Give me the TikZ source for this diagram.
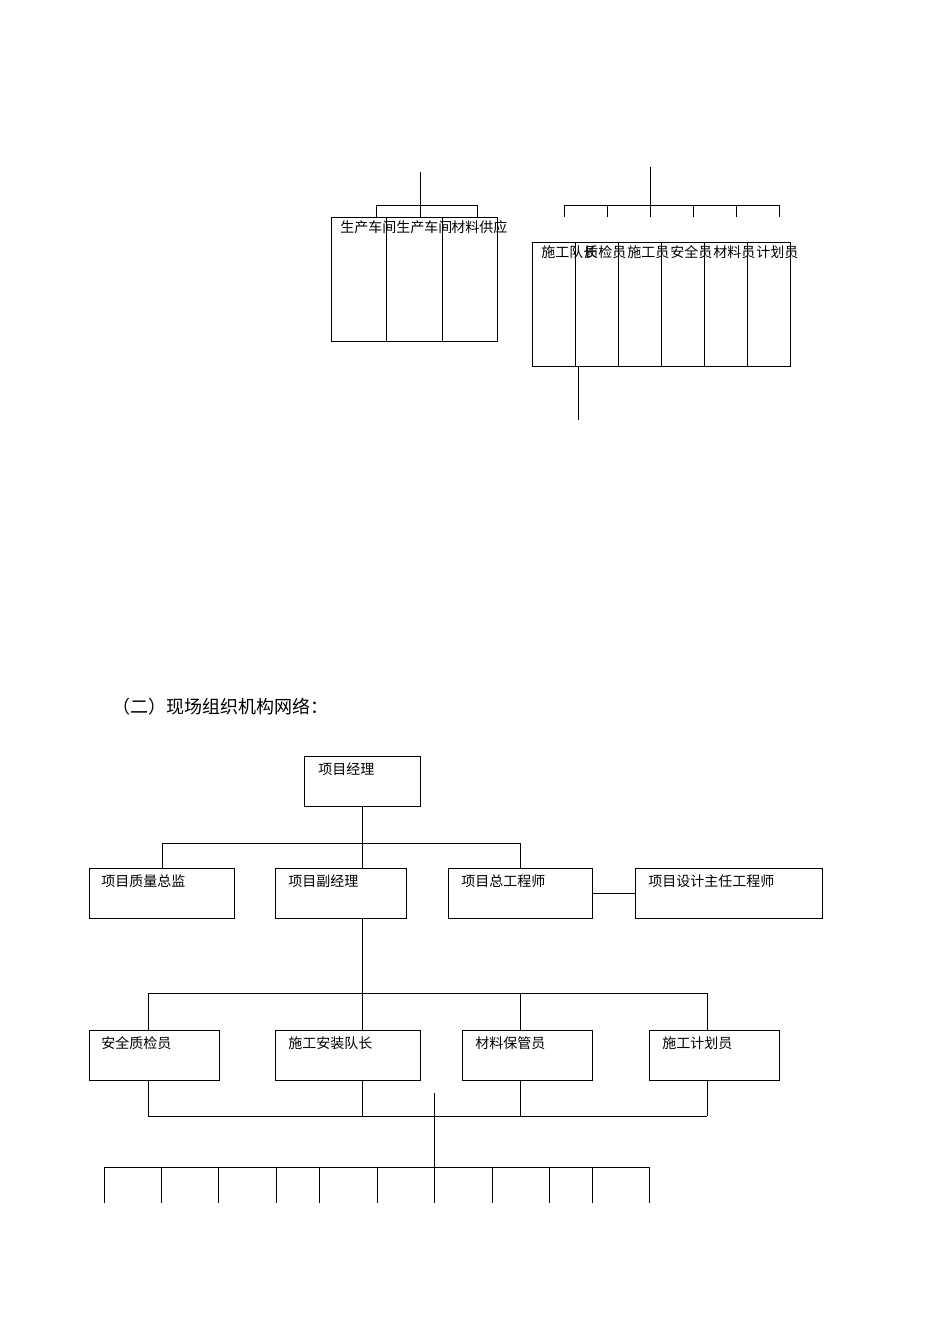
\documentclass[tikz,border=0pt]{standalone}
\usepackage{fontspec}
\newfontfamily\cjk{Noto Sans CJK SC}
\begin{document}
\begin{tikzpicture}[x=1pt,y=-1pt,line width=0.9pt,
 bx/.style={draw,minimum width=#1,anchor=north west,inner sep=0pt},
 lab/.style={anchor=north west,font=\cjk\fontsize{14}{15}\selectfont,inner sep=0pt},
 vlab/.style={anchor=north west,font=\cjk\fontsize{14}{15}\selectfont,inner sep=0pt,text width=15pt,align=left}]
\useasboundingbox (0,0) rectangle (950,1344);
% top left group
\coordinate (tl) at (420,172);
\draw (tl) -- (420,205);
\draw (376,217) -- (376,205) -- (477,205) -- (477,217);
\draw (420,205) -- (420,217);
\draw (331,217) rectangle (497,341);
\draw (386,217) -- (386,341) (442,217) -- (442,341);
\node[vlab] (a1) at (340,220) {生产车间};
\node[vlab] (a2) at (396,220) {生产车间};
\node[vlab] (a3) at (451,220) {材料供应};
% top right group
\draw (650,167) -- (650,205);
\draw (564,205) -- (779,205);
\foreach \x in {564,607,650,693,736,779} \draw (\x,205) -- (\x,217);
\draw (532,242) rectangle (790,366);
\foreach \x in {575,618,661,704,747} \draw (\x,242) -- (\x,366);
\draw (578,366) -- (578,420);
\node[vlab] at (541,245) {施工队长};
\node[vlab] at (584,245) {质检员};
\node[vlab] at (627,245) {施工员};
\node[vlab] at (670,245) {安全员};
\node[vlab] at (713,245) {材料员};
\node[vlab] at (756,245) {计划员};
% heading
\node[anchor=west,font=\cjk\fontsize{18}{20}\selectfont,inner sep=0pt] (h) at (112,707) {（二）现场组织机构网络：};
% main chart
\draw (304,756) rectangle (420,806); \node[lab] at (318,762) {项目经理};
\draw (362,806) -- (362,843);
\draw (162,868) -- (162,843) -- (520,843) -- (520,868);
\draw (362,843) -- (362,868);
\draw (89,868) rectangle (234,918); \node[lab] at (101,874) {项目质量总监};
\draw (275,868) rectangle (406,918); \node[lab] at (288,874) {项目副经理};
\draw (448,868) rectangle (592,918); \node[lab] at (461,874) {项目总工程师};
\draw (635,868) rectangle (822,918); \node[lab] at (648,874) {项目设计主任工程师};
\draw (592,893) -- (635,893);
\draw (362,918) -- (362,993);
\draw (148,993) -- (707,993);
\foreach \x in {148,362,520,707} \draw (\x,993) -- (\x,1030);
\draw (89,1030) rectangle (219,1080); \node[lab] at (101,1036) {安全质检员};
\draw (275,1030) rectangle (420,1080); \node[lab] at (288,1036) {施工安装队长};
\draw (462,1030) rectangle (592,1080); \node[lab] at (475,1036) {材料保管员};
\draw (649,1030) rectangle (779,1080); \node[lab] at (662,1036) {施工计划员};
\foreach \x in {148,362,520,707} \draw (\x,1080) -- (\x,1116);
\draw (148,1116) -- (707,1116);
\draw (434,1093) -- (434,1167);
\draw (104,1167) -- (649,1167);
\foreach \x in {104,161,218,276,319,377,434,492,549,592,649} \draw (\x,1167) -- (\x,1203);
\end{tikzpicture}
\end{document}
